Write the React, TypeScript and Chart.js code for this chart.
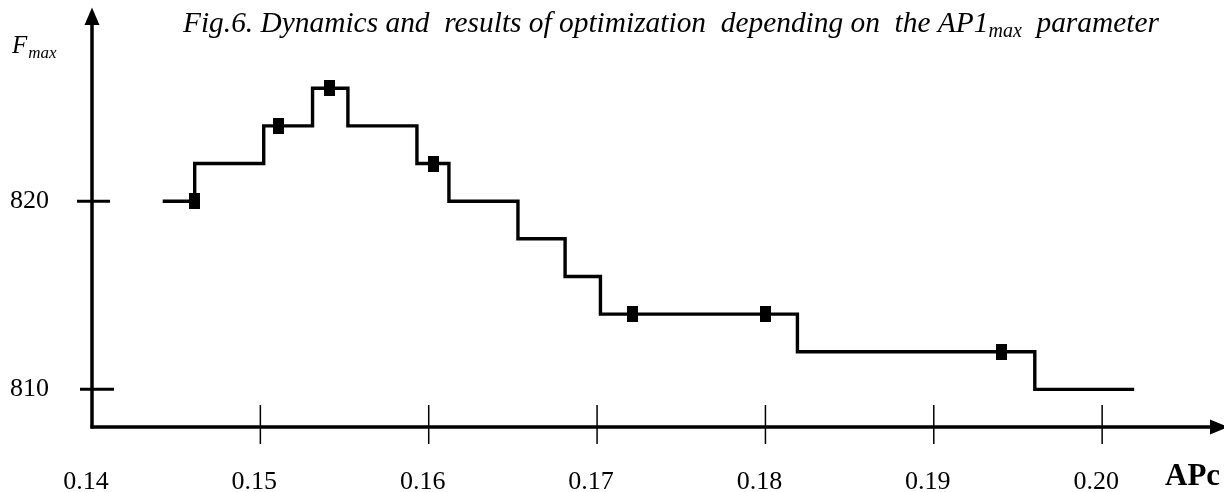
import React, { useEffect, useRef } from "react";
import { Chart, registerables } from "chart.js";

Chart.register(...registerables);

// Step-line vertices (x = APc, y = Fmax); horizontal first, then vertical
const stepX = [0.1442, 0.1461, 0.1502, 0.1531, 0.1552, 0.1593, 0.1612, 0.1653, 0.1681, 0.1702, 0.1819, 0.196, 0.2019];
const stepY = [820, 822, 824, 826, 824, 822, 820, 818, 816, 814, 812, 810, 810];

// Square markers
const markerX = [0.1461, 0.1511, 0.1541, 0.1603, 0.1721, 0.18, 0.194];
const markerY = [820, 824, 826, 822, 814, 814, 812];

const xTickValues = [0.14, 0.15, 0.16, 0.17, 0.18, 0.19, 0.2];
const xTickLabels = ["0.14", "0.15", "0.16", "0.17", "0.18", "0.19", "0.20"];
const yTickValues = [810, 820];
const yTickLabels = ["810", "820"];

const titleMain = "Fig.6. Dynamics and  results of optimization  depending on  the AP1";
const titleSub = "max";
const titleEnd = "  parameter";
const yAxisTitle = "F";
const yAxisSub = "max";
const xAxisTitle = "APc";

const SERIF = "'Liberation Serif', 'Times New Roman', serif";

function makeMarker(): HTMLCanvasElement {
  const c = document.createElement("canvas");
  c.width = 11;
  c.height = 16;
  const g = c.getContext("2d");
  if (g) {
    g.fillStyle = "#000";
    g.fillRect(0, 0, 11, 16);
  }
  return c;
}

const decorPlugin = {
  id: "decor",
  afterDraw(chart: any) {
    const ctx = chart.ctx as CanvasRenderingContext2D;
    const ca = chart.chartArea;
    const xs = chart.scales.x;
    const ys = chart.scales.y;
    ctx.save();
    ctx.strokeStyle = "#000";
    ctx.fillStyle = "#000";
    ctx.lineCap = "butt";

    const ax = ca.left;
    const ay = ca.bottom;
    // y axis line + arrow
    ctx.lineWidth = 3.5;
    ctx.beginPath();
    ctx.moveTo(ax, ay + 1.5);
    ctx.lineTo(ax, ca.top + 10);
    ctx.stroke();
    ctx.beginPath();
    ctx.moveTo(ax, ca.top - 5.5);
    ctx.lineTo(ax - 7.5, ca.top + 12);
    ctx.lineTo(ax + 7.5, ca.top + 12);
    ctx.closePath();
    ctx.fill();
    // x axis line + arrow
    ctx.beginPath();
    ctx.moveTo(ax - 1.5, ay);
    ctx.lineTo(ca.right - 8, ay);
    ctx.stroke();
    ctx.beginPath();
    ctx.moveTo(ca.right + 8, ay);
    ctx.lineTo(ca.right - 10, ay - 7.5);
    ctx.lineTo(ca.right - 10, ay + 7.5);
    ctx.closePath();
    ctx.fill();

    // y ticks crossing the axis
    ctx.lineWidth = 3;
    yTickValues.forEach((v, i) => {
      const py = ys.getPixelForValue(v);
      ctx.beginPath();
      ctx.moveTo(ax - (i === 0 ? 12 : 15), py);
      ctx.lineTo(ax + (i === 0 ? 22 : 18), py);
      ctx.stroke();
    });
    // x ticks crossing the axis
    ctx.lineWidth = 1.5;
    xTickValues.forEach((v) => {
      if (v <= xs.min) return;
      const px = xs.getPixelForValue(v);
      ctx.beginPath();
      ctx.moveTo(px, ay - 22);
      ctx.lineTo(px, ay + 17);
      ctx.stroke();
    });

    // Title with subscript
    ctx.textBaseline = "alphabetic";
    ctx.textAlign = "left";
    let tx = 183;
    const tb = 32;
    ctx.font = `italic 29.4px ${SERIF}`;
    ctx.fillText(titleMain, tx, tb);
    tx += ctx.measureText(titleMain).width;
    ctx.font = `italic 20px ${SERIF}`;
    ctx.fillText(titleSub, tx, tb + 5);
    tx += ctx.measureText(titleSub).width;
    ctx.font = `italic 29.4px ${SERIF}`;
    ctx.fillText(titleEnd, tx, tb);

    // Y axis title F_max
    ctx.font = `italic 25px ${SERIF}`;
    ctx.fillText(yAxisTitle, 12, 53);
    const fw = ctx.measureText(yAxisTitle).width;
    ctx.font = `italic 17px ${SERIF}`;
    ctx.fillText(yAxisSub, 12 + fw + 1, 58);

    // X axis title
    ctx.font = `bold 31px ${SERIF}`;
    ctx.fillText(xAxisTitle, 1165, 485);

    ctx.restore();
  },
};

export default function App() {
  const ref = useRef<HTMLCanvasElement | null>(null);
  useEffect(() => {
    if (!ref.current) return;
    const marker = makeMarker();
    const chart = new Chart(ref.current, {
      type: "line",
      data: {
        datasets: [
          {
            label: "Fmax",
            data: stepX.map((x, i) => ({ x, y: stepY[i] })),
            stepped: "before",
            borderColor: "#000",
            borderWidth: 3.4,
            borderJoinStyle: "miter",
            borderCapStyle: "butt",
            pointRadius: 0,
            fill: false,
          },
          {
            label: "points",
            data: markerX.map((x, i) => ({ x, y: markerY[i] })),
            showLine: false,
            pointStyle: marker,
            pointRadius: 8,
            pointBackgroundColor: "#000",
            pointBorderColor: "#000",
          },
        ],
      },
      options: {
        animation: false,
        responsive: false,
        layout: { autoPadding: false, padding: { top: 13, right: 4, left: 10, bottom: 0 } },
        plugins: {
          legend: { display: false },
          tooltip: { enabled: false },
          title: { display: false },
        },
        scales: {
          x: {
            type: "linear",
            min: 0.14,
            max: 0.207,
            grid: { display: false, drawTicks: false },
            border: { display: false },
            afterBuildTicks: (s: any) => {
              s.ticks = xTickValues.map((v) => ({ value: v }));
            },
            afterFit: (s: any) => {
              s.height = 65;
            },
            ticks: {
              autoSkip: false,
              maxRotation: 0,
              padding: 40,
              labelOffset: -6,
              color: "#000",
              font: { family: SERIF, size: 26 },
              callback: (_v: any, i: number) => xTickLabels[i],
            },
          },
          y: {
            type: "linear",
            min: 808,
            max: 830,
            grid: { display: false, drawTicks: false },
            border: { display: false },
            afterBuildTicks: (s: any) => {
              s.ticks = yTickValues.map((v) => ({ value: v }));
            },
            afterFit: (s: any) => {
              s.width = 82;
            },
            ticks: {
              padding: 0,
              crossAlign: "far",
              color: "#000",
              font: { family: SERIF, size: 26, lineHeight: 1 },
              callback: (_v: any, i: number) => yTickLabels[i],
            },
          },
        },
      },
      plugins: [decorPlugin],
    } as any);
    return () => chart.destroy();
  }, []);
  return (
    <div style={{ position: "absolute", left: 0, top: 0, width: 1224, height: 492, background: "#fff" }}>
      <canvas ref={ref} width={1224} height={492} style={{ display: "block" }} />
    </div>
  );
}
